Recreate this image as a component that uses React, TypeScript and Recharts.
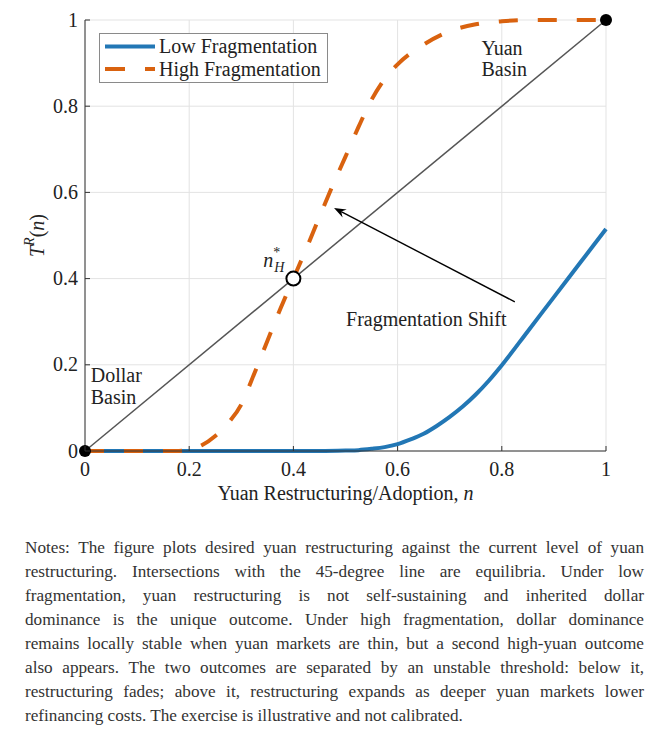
import React from "react";
import {
    CartesianGrid,
    Legend,
    Line,
    LineChart,
    ReferenceDot,
    ReferenceLine,
    XAxis,
    YAxis,
} from "recharts";

// n grid + values
const lowN = [0, 0.1, 0.2, 0.3, 0.4, 0.45, 0.5, 0.525, 0.55, 0.575, 0.6, 0.625, 0.65, 0.675, 0.7, 0.725, 0.75, 0.775, 0.8, 0.85, 0.9, 0.95, 1];
const lowT = [0, 0, 0, 0, 0, 0, 0.001, 0.002, 0.005, 0.009, 0.016, 0.027, 0.04, 0.058, 0.079, 0.103, 0.131, 0.163, 0.199, 0.278, 0.357, 0.436, 0.515];

const highN = [0, 0.1, 0.18, 0.2, 0.225, 0.25, 0.275, 0.3, 0.325, 0.35, 0.375, 0.4, 0.425, 0.45, 0.475, 0.5, 0.525, 0.55, 0.575, 0.6, 0.65, 0.7, 0.75, 0.8, 0.85, 0.9, 1];
const highT = [0, 0, 0, 0.003, 0.014, 0.035, 0.065, 0.108, 0.18, 0.255, 0.33, 0.4, 0.47, 0.543, 0.615, 0.683, 0.752, 0.815, 0.863, 0.897, 0.943, 0.974, 0.99, 0.997, 1, 1, 1];

const diagN = [0, 1];
const ticks = [0, 0.2, 0.4, 0.6, 0.8, 1];

const lowData = lowN.map((n, i) => ({ n, t: lowT[i] }));
const highData = highN.map((n, i) => ({ n, t: highT[i] }));
const diagData = diagN.map((n) => ({ n, t: n }));

const BLUE = "#2277b5";
const ORANGE = "#d9620f";
const FONT = "'Liberation Serif', 'Times New Roman', serif";
const DASH = "19 20";

const notes = [
    "Notes: The figure plots desired yuan restructuring against the current level of yuan",
    "restructuring. Intersections with the 45-degree line are equilibria. Under low",
    "fragmentation, yuan restructuring is not self-sustaining and inherited dollar",
    "dominance is the unique outcome. Under high fragmentation, dollar dominance",
    "remains locally stable when yuan markets are thin, but a second high-yuan outcome",
    "also appears. The two outcomes are separated by an unstable threshold: below it,",
    "restructuring fades; above it, restructuring expands as deeper yuan markets lower",
    "refinancing costs. The exercise is illustrative and not calibrated.",
];

const fmt = (v: number) => (v === 0 || v === 1 ? String(v) : v.toFixed(1));

const BottomTick = (p: any) => (
    <g>
        <line x1={p.x} y1={p.y} x2={p.x} y2={p.y - 5} stroke="#333" />
        <text x={p.x} y={p.y + 25} textAnchor="middle" fontFamily={FONT} fontSize={20} fill="#222">
            {fmt(p.payload.value)}
        </text>
    </g>
);
const LeftTick = (p: any) => (
    <g>
        <line x1={p.x} y1={p.y} x2={p.x + 5} y2={p.y} stroke="#333" />
        <text x={p.x - 7} y={p.y + 6.5} textAnchor="end" fontFamily={FONT} fontSize={20} fill="#222">
            {fmt(p.payload.value)}
        </text>
    </g>
);
const TopTick = (p: any) => <line x1={p.x} y1={p.y} x2={p.x} y2={p.y + 5} stroke="#333" />;
const RightTick = (p: any) => <line x1={p.x} y1={p.y} x2={p.x - 5} y2={p.y} stroke="#333" />;

const XLabel = (p: any) => {
    const vb = p.viewBox;
    return (
        <text x={vb.x + vb.width / 2} y={vb.y + 49} textAnchor="middle" fontFamily={FONT} fontSize={20} fill="#222">
            Yuan Restructuring/Adoption, <tspan fontStyle="italic">n</tspan>
        </text>
    );
};
const YLabel = (p: any) => {
    const vb = p.viewBox;
    const cx = 37;
    const cy = vb.y + vb.height / 2;
    return (
        <text x={cx} y={cy} transform={`rotate(-90, ${cx}, ${cy})`} textAnchor="middle" dominantBaseline="central" fontFamily={FONT} fontSize={20} fill="#222">
            <tspan fontStyle="italic">T</tspan>
            <tspan fontSize={14} dy={-8} fontStyle="italic">R</tspan>
            <tspan dy={8}>(</tspan>
            <tspan fontStyle="italic">n</tspan>
            <tspan>)</tspan>
        </text>
    );
};

const Ann = (p: any) => {
    const vb = p.viewBox;
    return (
        <text x={vb.x} y={vb.y} fontFamily={FONT} fontSize={20} fill="#222">
            {p.lines.map((l: string, i: number) => (
                <tspan key={i} x={vb.x} dy={i ? 21.5 : 0}>{l}</tspan>
            ))}
        </text>
    );
};

const NStar = (p: any) => {
    const vb = p.viewBox;
    return (
        <text x={vb.x} y={vb.y} fontFamily={FONT} fontSize={20} fill="#222">
            <tspan fontStyle="italic">n</tspan>
            <tspan fontSize={14} dy={-10}>*</tspan>
            <tspan fontSize={14} fontStyle="italic" x={vb.x + 11} dy={15}>H</tspan>
        </text>
    );
};

const Arrow = (p: any) => {
    const { x1, y1, x2, y2 } = p;
    const a = Math.atan2(y2 - y1, x2 - x1);
    const L = 12;
    const W = 4.5;
    const back = 8;
    const bx = x2 - L * Math.cos(a);
    const by = y2 - L * Math.sin(a);
    const nx = x2 - back * Math.cos(a);
    const ny = y2 - back * Math.sin(a);
    const px = -Math.sin(a) * W;
    const py = Math.cos(a) * W;
    return (
        <g>
            <line x1={x1} y1={y1} x2={nx} y2={ny} stroke="#000" strokeWidth={1.4} />
            <polygon points={`${x2},${y2} ${bx + px},${by + py} ${nx},${ny} ${bx - px},${by - py}`} fill="#000" />
        </g>
    );
};

const LegendBox = () => (
    <div
        style={{
            position: "relative",
            width: 229,
            height: 50,
            border: "1px solid #8a8a8a",
            background: "#fff",
            boxSizing: "border-box",
        }}
    >
        <svg width={229} height={50} style={{ display: "block", position: "absolute", left: -1, top: -1 }}>
            <line x1={6} y1={13.5} x2={56} y2={13.5} stroke={BLUE} strokeWidth={4} />
            <line x1={6} y1={36} x2={56} y2={36} stroke={ORANGE} strokeWidth={4} strokeDasharray="20 20" />
            <text x={60} y={20} fontFamily={FONT} fontSize={20} fill="#222">Low Fragmentation</text>
            <text x={60} y={43} fontFamily={FONT} fontSize={20} fill="#222">High Fragmentation</text>
        </svg>
    </div>
);

export default function App() {
    return (
        <div style={{ position: "absolute", left: 0, top: 0, width: 667, height: 732, background: "#fff" }}>
            <LineChart width={667} height={520} margin={{ top: 20, right: 61, bottom: 0, left: 0 }}>
                <CartesianGrid stroke="#e3e3e3" />
                <XAxis
                    dataKey="n"
                    type="number"
                    domain={[0, 1]}
                    ticks={ticks}
                    height={69}
                    tickSize={0}
                    tickMargin={0}
                    tickLine={false}
                    axisLine={{ stroke: "#333" }}
                    tick={<BottomTick />}
                    interval={0}
                    label={<XLabel />}
                />
                <XAxis
                    xAxisId="top"
                    orientation="top"
                    dataKey="n"
                    type="number"
                    domain={[0, 1]}
                    ticks={ticks}
                    height={0}
                    tickSize={0}
                    tickMargin={0}
                    tickLine={false}
                    axisLine={{ stroke: "#333" }}
                    tick={<TopTick />}
                    interval={0}
                />
                <YAxis
                    dataKey="t"
                    type="number"
                    domain={[0, 1]}
                    ticks={ticks}
                    width={85}
                    tickSize={0}
                    tickMargin={0}
                    tickLine={false}
                    axisLine={{ stroke: "#333" }}
                    tick={<LeftTick />}
                    interval={0}
                    label={<YLabel />}
                />
                <YAxis
                    yAxisId="right"
                    orientation="right"
                    dataKey="t"
                    type="number"
                    domain={[0, 1]}
                    ticks={ticks}
                    width={0}
                    tickSize={0}
                    tickMargin={0}
                    tickLine={false}
                    axisLine={{ stroke: "#333" }}
                    tick={<RightTick />}
                    interval={0}
                />
                <Line data={diagData} dataKey="t" stroke="#555" strokeWidth={1.5} dot={false} isAnimationActive={false} legendType="none" />
                <Line data={lowData} dataKey="t" name="Low Fragmentation" type="monotone" stroke={BLUE} strokeWidth={4} dot={false} isAnimationActive={false} />
                <Line data={highData} dataKey="t" name="High Fragmentation" type="monotone" stroke={ORANGE} strokeWidth={4} strokeDasharray={DASH} dot={false} isAnimationActive={false} />
                <ReferenceLine segment={[{ x: 0.825, y: 0.346 }, { x: 0.478, y: 0.564 }]} shape={<Arrow />} ifOverflow="visible" />
                <ReferenceDot x={0.011} y={0.16} r={0} fill="none" stroke="none" ifOverflow="visible" label={<Ann lines={["Dollar", "Basin"]} />} />
                <ReferenceDot x={0.761} y={0.919} r={0} fill="none" stroke="none" ifOverflow="visible" label={<Ann lines={["Yuan", "Basin"]} />} />
                <ReferenceDot x={0.501} y={0.29} r={0} fill="none" stroke="none" ifOverflow="visible" label={<Ann lines={["Fragmentation Shift"]} />} />
                <ReferenceDot x={0.342} y={0.428} r={0} fill="none" stroke="none" ifOverflow="visible" label={<NStar />} />
                <ReferenceDot x={0} y={0} r={6} fill="#000" stroke="none" ifOverflow="visible" />
                <ReferenceDot x={1} y={1} r={6} fill="#000" stroke="none" ifOverflow="visible" />
                <ReferenceDot x={0.4} y={0.4} r={7} fill="#fff" stroke="#000" strokeWidth={2} ifOverflow="visible" />
                <Legend
                    verticalAlign="middle"
                    align="center"
                    layout="horizontal"
                    content={<LegendBox />}
                    wrapperStyle={{ position: "absolute", left: 99, top: 33, width: 229, height: 50 }}
                />
            </LineChart>
            <div
                style={{
                    position: "absolute",
                    left: 25,
                    top: 536,
                    width: 619,
                    fontFamily: FONT,
                    fontSize: 17.2,
                    lineHeight: "24px",
                    color: "#333",
                }}
            >
                {notes.map((l, i) => (
                    <div key={i} style={{ textAlign: "justify", textAlignLast: i < notes.length - 1 ? "justify" : "left" }}>
                        {l}
                    </div>
                ))}
            </div>
        </div>
    );
}
